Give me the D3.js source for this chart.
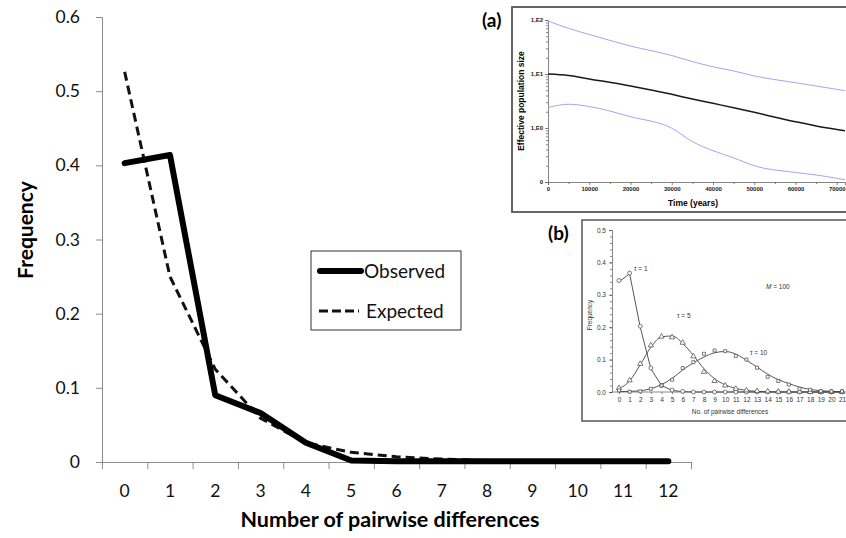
<!DOCTYPE html>
<html>
<head>
<meta charset="utf-8">
<script src="https://d3js.org/d3.v7.min.js"></script>
<style>
  body { margin: 0; background: #fff; }
  svg { display: block; }
</style>
</head>
<body>
<svg width="846" height="538"></svg>
<script>
// main chart: mismatch distribution
const pairwise = [0, 1, 2, 3, 4, 5, 6, 7, 8, 9, 10, 11, 12];
const observed = [0.403, 0.414, 0.090, 0.066, 0.026, 0.002, 0.001, 0.001, 0.001, 0.001, 0.001, 0.001, 0.001];
const expected = [0.526, 0.250, 0.125, 0.059, 0.026, 0.013, 0.007, 0.004, 0.002, 0.001, 0.001, 0.000, 0.000];
const freqTicks = [0, 0.1, 0.2, 0.3, 0.4, 0.5, 0.6];

// inset (a): skyline plot
const timeYears = [0, 5000, 10000, 20000, 30000, 35000, 40000, 45000, 50000, 60000, 65000, 70000, 72000];
const neMedian = [10, 9.4, 8.1, 6.0, 4.2, 3.44, 2.86, 2.38, 1.95, 1.31, 1.09, 0.94, 0.89];
const neUpper = [96, 70, 54, 33, 22, 17, 13.6, 11.4, 9.2, 6.9, 6.0, 5.2, 4.9];
const neLower = [2.4, 2.75, 2.5, 1.62, 0.99, 0.56, 0.38, 0.28, 0.2, 0.15, 0.135, 0.117, 0.11];
const neTicks = [0.1, 1, 10, 100];
const neTickLabels = ["0", "1,E0", "1,E1", "1,E2"];
const timeTicks = [0, 10000, 20000, 30000, 40000, 50000, 60000, 70000];

// inset (b): theoretical mismatch distributions
const diffsB = [0, 1, 2, 3, 4, 5, 6, 7, 8, 9, 10, 11, 12, 13, 14, 15, 16, 17, 18, 19, 20, 21];
const tau1Fit = [0.340, 0.365, 0.200, 0.072, 0.020, 0.005, 0.001, 0, 0, 0, 0, 0, 0, 0, 0, 0, 0, 0, 0, 0, 0, 0];
const tau1Obs = [0.344, 0.367, 0.203, 0.074, 0.020, 0.006, 0.002, 0, 0, 0, 0, 0, 0, 0, 0, 0, 0, 0, 0, 0, 0, 0];
const tau5Fit = [0.010, 0.034, 0.084, 0.138, 0.170, 0.173, 0.150, 0.113, 0.072, 0.041, 0.022, 0.011, 0.005, 0.002, 0.001, 0, 0, 0, 0, 0, 0, 0];
const tau5Obs = [0.012, 0.036, 0.087, 0.144, 0.171, 0.169, 0.152, 0.110, 0.062, 0.034, 0.020, 0.010, 0.005, 0.003, 0.002, 0.001, 0.001, 0.001, 0, 0, 0, 0];
const tau10Fit = [0.001, 0.002, 0.004, 0.010, 0.023, 0.042, 0.068, 0.090, 0.108, 0.121, 0.125, 0.117, 0.098, 0.077, 0.055, 0.038, 0.026, 0.015, 0.008, 0.004, 0.002, 0.001];
const tau10Obs = [0.005, 0.001, 0.002, 0.010, 0.020, 0.038, 0.074, 0.092, 0.118, 0.128, 0.126, 0.111, 0.100, 0.075, 0.047, 0.034, 0.023, 0.010, 0.007, 0.003, 0.002, 0.002];
const freqTicksB = [0, 0.1, 0.2, 0.3, 0.4, 0.5];

const svg = d3.select('svg');
svg.append('rect').attr('width', 846).attr('height', 538).attr('fill', '#fff');

// ---------- main chart ----------
const x = d3.scaleBand().domain(pairwise).range([102, 691]);
const xEdge = d3.scaleLinear().domain([0, pairwise.length]).range([102, 691]);
const y = d3.scaleLinear().domain([0, 0.6]).range([462, 17]);
const cx = (d) => x(d) + x.bandwidth() / 2;

const gy = svg.append('g')
  .attr('transform', 'translate(102,0)')
  .call(d3.axisLeft(y).tickValues(freqTicks).tickSize(6).tickPadding(16)
    .tickFormat((d) => d === 0 ? '0' : d3.format('.1f')(d)));
const gxTicks = svg.append('g')
  .attr('transform', 'translate(0,462)')
  .call(d3.axisBottom(xEdge).tickValues(d3.range(pairwise.length + 1)).tickSize(7).tickFormat(''));
const gx = svg.append('g')
  .attr('transform', 'translate(0,462)')
  .call(d3.axisBottom(x).tickSize(0).tickPadding(23));
gx.select('.domain').remove();

[gy, gxTicks, gx].forEach((g) => {
  g.selectAll('.domain, .tick line').attr('stroke', '#8c8c8c');
  g.selectAll('text').attr('font-family', 'Lato, sans-serif').attr('font-size', 17.5).attr('fill', '#111');
});

svg.append('text')
  .attr('transform', 'translate(33,230) rotate(-90)')
  .attr('text-anchor', 'middle')
  .attr('font-family', 'Lato, sans-serif').attr('font-weight', 'bold').attr('font-size', 21)
  .text('Frequency');
svg.append('text')
  .attr('x', 390).attr('y', 527)
  .attr('text-anchor', 'middle')
  .attr('font-family', 'Lato, sans-serif').attr('font-weight', 'bold').attr('font-size', 21.5)
  .text('Number of pairwise differences');

const line = d3.line().x((d, i) => cx(pairwise[i])).y((d) => y(d));

svg.append('path').datum(expected)
  .attr('d', line).attr('fill', 'none')
  .attr('stroke', '#111').attr('stroke-width', 3).attr('stroke-dasharray', '9,5');
svg.append('path').datum(observed)
  .attr('d', line).attr('fill', 'none')
  .attr('stroke', '#000').attr('stroke-width', 6)
  .attr('stroke-linejoin', 'round').attr('stroke-linecap', 'round');

// legend
const lg = svg.append('g');
lg.append('rect').attr('x', 311).attr('y', 251).attr('width', 150).attr('height', 79)
  .attr('fill', '#fff').attr('stroke', '#333').attr('stroke-width', 1);
lg.append('line').attr('x1', 320).attr('x2', 361).attr('y1', 271).attr('y2', 271)
  .attr('stroke', '#000').attr('stroke-width', 6).attr('stroke-linecap', 'round');
lg.append('line').attr('x1', 319).attr('x2', 359).attr('y1', 311).attr('y2', 311)
  .attr('stroke', '#111').attr('stroke-width', 3).attr('stroke-dasharray', '9,4');
lg.append('text').attr('x', 364).attr('y', 278).text('Observed');
lg.append('text').attr('x', 366).attr('y', 318).text('Expected');
lg.selectAll('text').attr('font-family', 'Lato, sans-serif').attr('font-size', 19).attr('fill', '#111');

// ---------- inset (a) ----------
const ga = svg.append('g');
ga.append('rect').attr('x', 512).attr('y', 7).attr('width', 345).attr('height', 205)
  .attr('fill', '#fff').attr('stroke', '#555').attr('stroke-width', 1.8);
ga.append('text').attr('x', 482).attr('y', 27)
  .attr('font-family', 'Lato, sans-serif').attr('font-weight', 'bold').attr('font-size', 19)
  .text('(a)');

const xA = d3.scaleLinear().domain([0, 72000]).range([548, 845]);
const yA = d3.scaleLog().domain([0.1, 100]).range([182, 20]);

const minorA = [];
[0.1, 1, 10].forEach((b) => { for (let k = 2; k <= 9; k++) minorA.push(b * k); });
ga.append('g').attr('transform', 'translate(548,0)')
  .call(d3.axisLeft(yA).tickValues(minorA).tickSize(2).tickFormat(''))
  .call((g) => g.select('.domain').remove());
ga.append('g').attr('transform', 'translate(0,182)')
  .call(d3.axisBottom(xA).tickValues([5000, 15000, 25000, 35000, 45000, 55000, 65000]).tickSize(2).tickFormat(''))
  .call((g) => g.select('.domain').remove());
const gya = ga.append('g').attr('transform', 'translate(548,0)')
  .call(d3.axisLeft(yA).tickValues(neTicks).tickSize(3).tickPadding(2)
    .tickFormat((d, i) => neTickLabels[i]));
const gxa = ga.append('g').attr('transform', 'translate(0,182)')
  .call(d3.axisBottom(xA).tickValues(timeTicks).tickSize(3).tickPadding(2).tickFormat(d3.format('d')));
[gya, gxa].forEach((g) => {
  g.selectAll('text').attr('font-family', 'Liberation Sans, Arial, sans-serif')
    .attr('font-weight', 'bold').attr('font-size', 6).attr('fill', '#222');
});
ga.selectAll('.domain, .tick line').attr('stroke', '#666').attr('stroke-width', 0.8);

ga.append('text')
  .attr('transform', 'translate(524,101) rotate(-90)')
  .attr('text-anchor', 'middle')
  .attr('font-family', 'Liberation Sans, Arial, sans-serif').attr('font-weight', 'bold').attr('font-size', 8.5)
  .text('Effective population size');
ga.append('text')
  .attr('x', 693).attr('y', 206).attr('text-anchor', 'middle')
  .attr('font-family', 'Liberation Sans, Arial, sans-serif').attr('font-weight', 'bold').attr('font-size', 8.5)
  .text('Time (years)');

const lineA = d3.line().x((d, i) => xA(timeYears[i])).y((d) => yA(d)).curve(d3.curveMonotoneX);
ga.append('path').datum(neUpper).attr('d', lineA).attr('fill', 'none').attr('stroke', '#a4a4f2').attr('stroke-width', 1);
ga.append('path').datum(neLower).attr('d', lineA).attr('fill', 'none').attr('stroke', '#a4a4f2').attr('stroke-width', 1);
ga.append('path').datum(neMedian).attr('d', lineA).attr('fill', 'none').attr('stroke', '#1a1a1a').attr('stroke-width', 1.5);

// ---------- inset (b) ----------
const gb = svg.append('g');
gb.append('rect').attr('x', 582).attr('y', 220).attr('width', 275).attr('height', 201)
  .attr('fill', '#fff').attr('stroke', '#555').attr('stroke-width', 1.5);
gb.append('text').attr('x', 548).attr('y', 240)
  .attr('font-family', 'Lato, sans-serif').attr('font-weight', 'bold').attr('font-size', 19)
  .text('(b)');

const xB = d3.scaleLinear().domain([0, 21]).range([619, 842]);
const yB = d3.scaleLinear().domain([0, 0.5]).range([392, 230]);

gb.append('g').attr('transform', 'translate(612,0)')
  .call(d3.axisLeft(yB).tickValues(d3.range(0, 0.51, 0.02)).tickSize(2).tickFormat(''))
  .call((g) => g.select('.domain').remove());
const gyb = gb.append('g').attr('transform', 'translate(612,0)')
  .call(d3.axisLeft(yB).tickValues(freqTicksB).tickSize(3).tickPadding(3).tickFormat(d3.format('.1f')));
gb.append('line').attr('x1', 612).attr('x2', 846).attr('y1', 392).attr('y2', 392);
const gxb = gb.append('g').attr('transform', 'translate(0,392)')
  .call(d3.axisBottom(xB).tickValues(diffsB).tickSize(2).tickPadding(3).tickFormat(d3.format('d')));
gxb.select('.domain').remove();
[gyb, gxb].forEach((g) => {
  g.selectAll('text').attr('font-family', 'Liberation Sans, Arial, sans-serif')
    .attr('font-size', 6.5).attr('fill', '#333');
});
gb.selectAll('.domain, .tick line, line').attr('stroke', '#555').attr('stroke-width', 0.7);

gb.append('text')
  .attr('transform', 'translate(592,315) rotate(-90)')
  .attr('text-anchor', 'middle').text('Frequency');
gb.append('text').attr('x', 730).attr('y', 414).attr('text-anchor', 'middle').text('No. of pairwise differences');
gb.append('text').attr('x', 634).attr('y', 271).text('τ = 1');
gb.append('text').attr('x', 677).attr('y', 318).text('τ = 5');
gb.append('text').attr('x', 750).attr('y', 355).text('τ = 10');
const mlab = gb.append('text').attr('x', 766).attr('y', 289);
mlab.append('tspan').attr('font-style', 'italic').text('M');
mlab.append('tspan').text(' = 100');
gb.selectAll('g ~ text').filter(function () { return !this.getAttribute('font-size'); })
  .attr('font-family', 'Liberation Sans, Arial, sans-serif').attr('font-size', 6.5).attr('fill', '#333');

const lineB = d3.line().x((d, i) => xB(diffsB[i])).y((d) => yB(d));
[[tau1Fit, d3.curveLinear], [tau5Fit, d3.curveMonotoneX], [tau10Fit, d3.curveMonotoneX]].forEach(([vals, curve]) => {
  gb.append('path').datum(vals).attr('d', lineB.curve(curve))
    .attr('fill', 'none').attr('stroke', '#444').attr('stroke-width', 0.9);
});

const markers = [
  [tau1Obs, d3.symbolCircle, 12],
  [tau5Obs, d3.symbolTriangle, 12],
  [tau10Obs, d3.symbolSquare, 9]
];
markers.forEach(([vals, type, size]) => {
  gb.append('g').selectAll('path').data(vals).enter().append('path')
    .attr('transform', (d, i) => `translate(${xB(diffsB[i])},${yB(d)})`)
    .attr('d', d3.symbol().type(type).size(size))
    .attr('fill', '#fff').attr('stroke', '#444').attr('stroke-width', 0.7);
});
</script>
</body>
</html>
